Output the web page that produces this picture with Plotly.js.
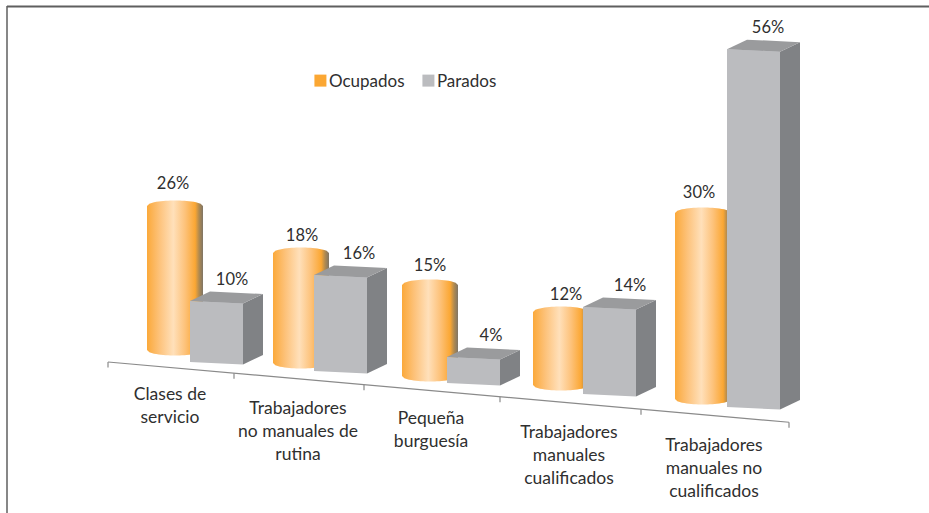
<!DOCTYPE html>
<html><head><meta charset="utf-8">
<script src="https://cdn.plot.ly/plotly-3.0.1.min.js"></script>
<style>html,body{margin:0;padding:0;background:#fff}#c{width:929px;height:513px}</style></head>
<body><div id="c"></div>
<script>
// --- data ---
const categories = ["Clases de<br>servicio","Trabajadores<br>no manuales de<br>rutina","Pequeña<br>burguesía","Trabajadores<br>manuales<br>cualificados","Trabajadores<br>manuales no<br>cualificados"];
const ocupados = [26,18,15,12,30];
const parados = [10,16,4,14,56];

// --- projection of the oblique 3D scene (pixels on a 929x513 axis) ---
const ocupLeft = [147,273,402,533,675];
const ocupFloor = [350,363,376,385,399];
const ocupScale = [5.54,6.11,6.07,6.08,6.2];
const ocupLabelDx = [-2,1,0,5,-4];
const ocupLabelDy = [-15.5,-10.5,-12.5,-10.5,-13.5];
const parLeft = [190,314,447,583,727];
const parFloor = [362,371,383,394,407];
const parScale = [6.1,6.0,6.5,6.21,6.39];
const parLabelDx = [-4.5,-1.5,-2.5,0.5,-5.5];
const labelCenterX = [170,298,431,569,714];
const labelFirstY = [395.5,409.5,419.5,433.5,446.5];
const axisTicks = [108,234,364,500,641,789];
const cylW=56, rim=5.5, boxW=53, slant=2.5, depthX=20, depthY=-9.5, lineGap=23;
const axisY = x => 362 + 0.0885*(x-108);

const ink='#2F2F2F', font='Lato, Carlito, sans-serif';
const cOrange='#FBA733', cFront='#BBBCBF', cSide='#808285', cTop='#9A9B9D';
const cylGrad=[[0,'#FBA93A'],[0.22,'#FDC27A'],[0.47,'#FFE0BA'],[0.68,'#FDC27A'],[0.86,'#FBA733'],[0.93,'#B08A50'],[1,'#7F7566']];

const traces=[];
// real bars carry the values and the legend; the 3D faces are drawn over them
traces.push({type:'bar',name:'Ocupados',x:ocupLeft.map(v=>v+cylW/2),base:ocupFloor,
  y:ocupados.map((v,i)=>-v*ocupScale[i]),width:cylW,marker:{color:cOrange,line:{width:0}},hoverinfo:'skip'});
traces.push({type:'bar',name:'Parados',x:parLeft.map(v=>v+boxW/2),base:parFloor,
  y:parados.map((v,i)=>-v*parScale[i]),width:boxW,marker:{color:cFront,line:{width:0}},hoverinfo:'skip'});

const poly=(xs,ys,extra)=>Object.assign({type:'scatter',mode:'none',x:xs,y:ys,fill:'toself',showlegend:false,hoverinfo:'skip'},extra);

// axis
traces.push({type:'scatter',mode:'lines',x:axisTicks.flatMap(t=>[t,t,null]).concat([axisTicks[0],axisTicks[5]]),
  y:axisTicks.flatMap(t=>[axisY(t),axisY(t)+5.5,null]).concat([axisY(axisTicks[0]),axisY(axisTicks[5])]),
  line:{color:'#8A8A8A',width:1.2},showlegend:false,hoverinfo:'skip',connectgaps:false});

categories.forEach((c,i)=>{
  // cylinder
  const L=ocupLeft[i], top=ocupFloor[i]-ocupados[i]*ocupScale[i], xs=[], ys=[];
  for(let k=0;k<=24;k++){const t=-1+k/12; xs.push(L+cylW/2*(1+t)); ys.push(top-rim*Math.sqrt(1-t*t));}
  for(let k=0;k<=24;k++){const t=1-k/12; xs.push(L+cylW/2*(1+t)); ys.push(ocupFloor[i]+rim*Math.sqrt(1-t*t));}
  traces.push(poly(xs,ys,{fillgradient:{type:'horizontal',colorscale:cylGrad}}));
  // box
  const X=parLeft[i], F=parFloor[i], T=F-parados[i]*parScale[i], R=X+boxW;
  traces.push(poly([R,R+depthX,R+depthX,R],[T+slant,T+slant+depthY,F+slant+depthY,F+slant],{fillcolor:cSide}));
  traces.push(poly([X,R,R+depthX,X+depthX],[T,T+slant,T+slant+depthY,T+depthY],{fillcolor:cTop}));
  traces.push(poly([X,R,R,X],[T,T+slant,F+slant,F],{fillcolor:cFront}));
});

// value labels
traces.push({type:'scatter',mode:'text',showlegend:false,hoverinfo:'skip',
  x:ocupLeft.map((v,i)=>v+cylW/2+ocupLabelDx[i]),
  y:ocupFloor.map((v,i)=>v-ocupados[i]*ocupScale[i]-rim+ocupLabelDy[i]),
  text:ocupados.map(v=>v+'%'),textposition:'middle center',textfont:{family:font,size:16.5,color:ink}});
traces.push({type:'scatter',mode:'text',showlegend:false,hoverinfo:'skip',
  x:parLeft.map((v,i)=>v+boxW/2+depthX+parLabelDx[i]),
  y:parFloor.map((v,i)=>v-parados[i]*parScale[i]+depthY-10.5),
  text:parados.map(v=>v+'%'),textposition:'middle center',textfont:{family:font,size:16.5,color:ink}});

// category labels, one point per line for the wider line spacing
const lx=[],ly=[],lt=[];
categories.forEach((c,i)=>c.split('<br>').forEach((s,j)=>{lx.push(labelCenterX[i]);ly.push(labelFirstY[i]+j*lineGap);lt.push(s);}));
traces.push({type:'scatter',mode:'text',showlegend:false,hoverinfo:'skip',x:lx,y:ly,text:lt,
  textposition:'middle center',textfont:{family:font,size:17.5,color:ink}});

const layout={width:929,height:513,margin:{l:0,r:0,t:0,b:0},paper_bgcolor:'#fff',plot_bgcolor:'#fff',
  barmode:'overlay',
  xaxis:{range:[0,929],visible:false,fixedrange:true},
  yaxis:{range:[513,0],visible:false,fixedrange:true},
  legend:{orientation:'h',x:0.311,y:0.842,xanchor:'left',yanchor:'middle',bgcolor:'rgba(0,0,0,0)',
    entrywidth:63,entrywidthmode:'pixels',
    font:{family:font,size:17,color:ink},traceorder:'normal',itemclick:false,itemdoubleclick:false},
  shapes:[
   {type:'line',xref:'x',yref:'y',x0:7,x1:929,y0:6.5,y1:6.5,line:{color:'#5F5F5F',width:2}},
   {type:'line',xref:'x',yref:'y',x0:7,x1:7,y0:6,y1:513,line:{color:'#5F5F5F',width:1.5}}
  ],
  showlegend:true};
Plotly.newPlot('c',traces,layout,{displayModeBar:false,staticPlot:true}).then(gd=>{
  // pull the legend swatches next to their text, as in the original
  gd.querySelectorAll('.legend .legendsymbols').forEach(g=>g.setAttribute('transform','translate(11.5,0)'));
});
</script></body></html>
